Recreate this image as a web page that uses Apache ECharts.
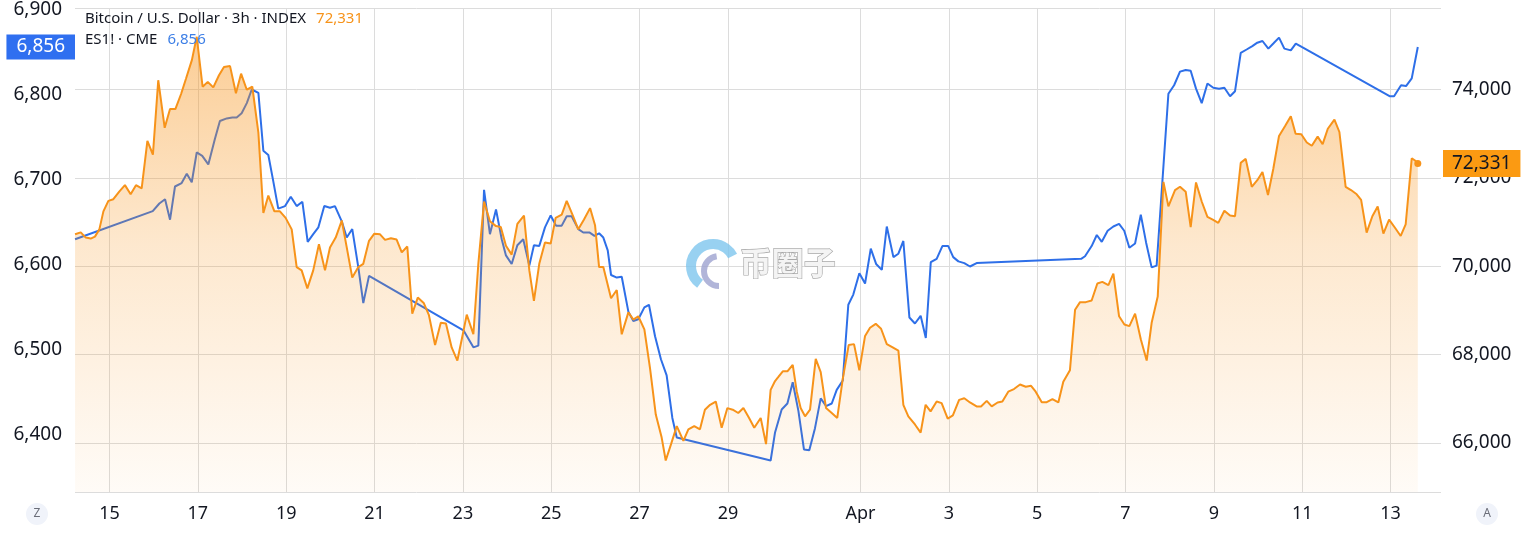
<!DOCTYPE html>
<html>
<head>
<meta charset="utf-8">
<script src="https://cdn.jsdelivr.net/npm/echarts@6/dist/echarts.min.js"></script>
<style>
html,body{margin:0;padding:0;background:#fff;}
#chart{width:1526px;height:533px;}
</style>
</head>
<body>
<div id="chart"></div>
<script>
// Hours since Mar 14 00:00 (local chart time)
const btcHours = [5.3,8.4,11.1,13.8,16.1,18.5,20.7,23.4,26.1,29.3,32.4,35.5,38.4,41.5,44.6,47.6,50.5,54.0,56.9,59.8,62.9,65.6,68.8,71.4,74.6,77.4,80.4,83.5,86.2,89.5,92.7,95.5,98.6,101.6,104.9,107.6,110.3,113.6,116.6,119.7,123.0,125.7,128.4,131.5,134.7,137.8,141.1,143.8,146.9,150.2,152.9,155.9,159.2,161.9,165.0,167.9,171.0,173.7,176.9,180.0,182.8,185.8,188.5,191.5,194.7,197.5,200.9,204.0,206.8,209.9,213.0,215.4,218.1,221.7,224.4,227.5,230.7,234.0,236.6,239.4,242.5,245.6,249.2,252.1,254.6,257.5,260.6,263.7,266.4,269.7,272.4,275.7,278.7,281.8,285.1,287.8,290.0,292.3,296.5,299.6,302.3,305.9,308.6,311.3,314.6,317.7,320.8,324.0,326.2,329.1,332.2,335.8,338.5,341.7,344.8,347.5,350.3,353.4,356.6,359.7,362.6,365.6,368.4,371.5,374.3,377.8,380.7,383.2,385.6,387.4,389.8,392.3,395.2,397.4,399.5,401.9,404.6,407.7,410.4,413.3,416.4,419.4,422.4,425.6,428.5,431.4,434.5,437.2,440.3,443.2,446.3,449.5,452.6,455.3,458.0,461.6,464.7,467.4,470.1,473.4,476.1,479.4,482.2,485.6,488.4,491.5,495.1,497.5,500.6,503.3,506.5,509.1,512.3,515.4,518.7,521.8,524.7,527.2,530.5,533.2,536.3,539.5,542.2,545.8,548.6,551.3,554.4,557.6,560.7,563.4,566.7,569.4,572.5,575.4,578.1,581.2,584.3,587.5,590.2,593.5,596.6,599.3,602.9,605.6,608.7,611.4,614.3,617.4,620.5,623.4,626.4,629.7,632.8,635.5,638.6,641.3,644.6,647.6,650.4,653.4,656.3,659.4,662.7,665.8,668.4,671.5,674.5,677.2,680.4,683.1,685.9,689.5,692.2,695.6,698.5,701.6,704.0,707.0,710.1,713.0,716.1,719.2,722.4,725.5,728.2,731.5,733.3,734.8];
const btcValues = [70724,70769,70650,70628,70672,70836,71244,71482,71519,71690,71838,71630,71838,71764,72841,72529,74215,73138,73562,73562,73903,74253,74676,75200,74067,74178,74052,74327,74513,74535,73918,74364,74000,74067,73027,71207,71601,71244,71244,71096,70836,69981,69907,69499,69907,70501,69907,70427,70650,71036,70427,69744,69981,70056,70576,70739,70724,70598,70635,70605,70316,70449,68927,69291,69170,68900,68214,68719,68704,68162,67864,68347,68904,68459,70056,71467,71021,70910,70888,70464,70264,70962,71148,69907,69216,70056,70539,70516,71096,71170,71482,71155,70836,71058,71318,70930,69981,69981,69276,69462,68459,68956,68793,68867,68570,67679,66639,66119,65599,65970,66379,66045,66305,66379,66305,66750,66862,66936,66342,66787,66750,66676,66787,66564,66342,66564,65970,67200,67400,67493,67619,67619,67768,67159,66787,66601,66750,67902,67604,66787,66676,66564,67456,68214,68236,67642,68422,68607,68696,68585,68236,68162,68088,66862,66601,66416,66230,66862,66713,66936,66899,66550,66620,66973,67010,66914,66825,66825,66951,66825,66914,66936,67159,67218,67322,67270,67292,67159,66921,66921,66988,66914,67382,67642,69016,69187,69187,69224,69610,69647,69573,69833,68867,68682,68644,68927,68347,67864,68719,69313,71913,71356,71727,71801,71690,70888,71898,71467,71118,71058,70984,71259,71148,71133,72344,72433,71801,71950,72136,71616,72210,72953,73176,73398,73000,72990,72804,72730,72938,72766,73116,73324,73042,71801,71727,71630,71504,70761,71133,71356,70739,71058,70873,70687,70947,72448,72396,72331];

const esHours = [5.3,47.5,51.1,54.2,56.9,59.6,63.2,66.0,68.7,71.4,74.4,77.7,81.3,84.0,87.7,90.7,93.1,95.8,98.6,101.3,104.9,107.6,110.3,113.0,115.7,119.4,122.5,125.7,128.8,131.7,134.7,137.5,140.7,143.8,146.5,150.2,152.9,155.9,159.2,161.9,165.0,216.3,221.7,224.4,227.5,230.7,234.0,237.1,239.4,242.5,245.6,248.8,252.1,254.6,257.5,260.6,263.7,266.6,269.7,272.4,275.1,278.7,281.4,284.7,287.5,290.0,292.3,294.7,296.5,299.6,302.3,305.9,308.6,311.3,314.6,317.1,320.4,323.6,326.7,329.8,332.2,383.2,385.6,389.2,392.3,395.2,398.3,401.3,404.2,407.3,410.4,413.3,416.4,419.1,422.4,425.4,428.1,431.4,434.5,437.6,440.5,443.6,446.3,449.9,452.6,455.3,458.6,461.6,464.7,467.5,470.2,473.4,476.5,479.7,482.4,485.2,488.4,491.5,495.1,551.9,554.0,557.6,560.4,563.1,566.3,569.4,572.5,575.3,578.1,581.2,584.3,587.2,590.2,592.9,599.3,602.4,605.6,608.7,611.4,614.3,617.4,620.5,623.7,626.8,629.7,632.8,635.5,638.6,641.8,644.9,647.6,650.4,653.6,656.3,659.4,662.3,665.8,668.5,671.7,719.7,721.9,725.7,728.4,731.5,734.8];
const esValues = [6630,6663,6672,6677,6653,6692,6696,6707,6697,6732,6728,6718,6748,6769,6772,6773,6773,6778,6790,6806,6802,6734,6729,6698,6666,6669,6680,6669,6674,6627,6636,6644,6669,6667,6669,6651,6632,6642,6597,6555,6587,6523,6503,6505,6688,6636,6665,6630,6611,6601,6623,6630,6599,6623,6622,6644,6658,6646,6646,6657,6657,6642,6638,6638,6634,6637,6632,6617,6588,6585,6586,6545,6534,6536,6550,6553,6516,6489,6470,6420,6397,6370,6403,6430,6437,6462,6428,6383,6382,6408,6443,6434,6437,6453,6464,6553,6565,6590,6578,6619,6601,6594,6645,6609,6613,6628,6538,6531,6540,6514,6603,6607,6622,6622,6609,6604,6602,6598,6602,6607,6610,6622,6635,6627,6640,6645,6648,6640,6620,6625,6659,6626,6597,6599,6801,6811,6827,6829,6828,6807,6790,6813,6808,6807,6808,6798,6804,6849,6853,6857,6861,6863,6854,6860,6867,6854,6852,6860,6856,6798,6798,6811,6810,6819,6856];

const xTickHours = [24,72,120,168,216,264,312,360,432,480,528,576,624,672,720];
const xTickLabels = ['15','17','19','21','23','25','27','29','Apr','3','5','7','9','11','13'];

const btcLast = 72331;
const esLast = 6856;

const FONT = "'Noto Sans', 'Liberation Sans', sans-serif";
const ORANGE = '#f7931a';
const BLUE = '#2e6fe8';
const fmt = v => Math.round(v).toLocaleString('en-US');

const btcData = btcHours.map((h, i) => [h, btcValues[i]]);
const esData = esHours.map((h, i) => [h, esValues[i]]);

const chart = echarts.init(document.getElementById('chart'));
chart.setOption({
  animation: false,
  backgroundColor: '#ffffff',
  title: {
    left: 85, top: 8, padding: 0,
    text: '{a|Bitcoin / U.S. Dollar · 3h · INDEX}  {b|' + fmt(btcLast) + '}\n{a|ES1! · CME}  {c|' + fmt(esLast) + '}',
    textStyle: {
      fontWeight: 'normal',
      rich: {
        a: {fontSize: 15, color: '#131722', fontFamily: FONT, fontWeight: 'normal', lineHeight: 21},
        b: {fontSize: 15, color: ORANGE, fontFamily: FONT, fontWeight: 'normal', lineHeight: 21},
        c: {fontSize: 15, color: '#3d7fe6', fontFamily: FONT, fontWeight: 'normal', lineHeight: 21}
      }
    }
  },
  grid: {left: 75, right: 85, top: 0, bottom: 41, containLabel: false},
  xAxis: {
    type: 'value', min: 5.27, max: 747.4,
    axisLine: {show: false},
    axisTick: {show: false, customValues: xTickHours},
    axisLabel: {
      customValues: xTickHours,
      formatter: v => { const i = xTickHours.indexOf(Math.round(v)); return i >= 0 ? xTickLabels[i] : ''; },
      fontSize: 18, color: '#131722', fontFamily: FONT, margin: 13
    },
    splitLine: {show: true, lineStyle: {color: '#dcdcdc', width: 1}}
  },
  yAxis: [
    {
      type: 'value', position: 'left', min: 6333, max: 6901.7, scale: true,
      axisLine: {show: false}, axisTick: {show: false}, splitLine: {show: false},
      axisLabel: {showMinLabel: false, showMaxLabel: false, formatter: fmt, fontSize: 19, color: '#131722', fontFamily: FONT, margin: 13}
    },
    {
      type: 'value', position: 'right', min: 64886, max: 75850, scale: true,
      axisLine: {show: false}, axisTick: {show: false},
      splitLine: {show: true, lineStyle: {color: '#dcdcdc', width: 1}},
      axisLabel: {showMinLabel: false, showMaxLabel: false, formatter: fmt, fontSize: 19, color: '#131722', fontFamily: FONT, margin: 11}
    }
  ],
  series: [
    {
      name: 'ES1!', type: 'line', yAxisIndex: 0, data: esData, z: 1,
      showSymbol: false, lineStyle: {color: BLUE, width: 2}, itemStyle: {color: BLUE},
      markLine: {
        silent: true, symbol: 'none', animation: false, z: 5,
        lineStyle: {color: 'rgba(0,0,0,0)', width: 0},
        label: {position: 'start', distance: 0, formatter: fmt(esLast), backgroundColor: '#2f6ff0', color: '#ffffff',
          fontSize: 19, fontFamily: FONT, padding: [2, 10, 2, 10], lineHeight: 21},
        data: [{yAxis: esLast}]
      }
    },
    {
      name: 'BTC', type: 'line', yAxisIndex: 1, data: btcData, z: 2,
      showSymbol: false, lineStyle: {color: ORANGE, width: 2}, itemStyle: {color: ORANGE},
      areaStyle: {
        color: {type: 'linear', x: 0, y: 0, x2: 0, y2: 492, global: true,
          colorStops: [{offset: 0, color: 'rgba(247,147,26,0.72)'}, {offset: 0.5, color: 'rgba(247,147,26,0.3)'}, {offset: 1, color: 'rgba(247,147,26,0.05)'}]}
      },
      markPoint: {
        silent: true, symbol: 'circle', symbolSize: 7, itemStyle: {color: ORANGE}, label: {show: false},
        data: [{coord: [btcHours[btcHours.length - 1], btcLast]}]
      },
      markLine: {
        silent: true, symbol: 'none', animation: false,
        lineStyle: {color: 'rgba(0,0,0,0)', width: 0},
        label: {position: 'end', distance: 2, formatter: fmt(btcLast), backgroundColor: '#fb9a12', color: '#131722',
          fontSize: 19, fontFamily: FONT, padding: [3, 9, 3, 9], lineHeight: 21},
        data: [{yAxis: btcLast}]
      }
    }
  ],
  graphic: [
    {type: 'arc', shape: {cx: 713, cy: 266, r: 22, startAngle: Math.PI * 0.7, endAngle: Math.PI * 1.85}, style: {stroke: '#7ec6ee', lineWidth: 10, fill: null, opacity: 0.8}, silent: true, z: 10},
    {type: 'arc', shape: {cx: 719, cy: 271, r: 15, startAngle: Math.PI * 0.5, endAngle: Math.PI * 1.45}, style: {stroke: '#9da2cf', lineWidth: 6, fill: null, opacity: 0.8}, silent: true, z: 10},
    {type: 'text', left: 739, top: 246, style: {text: '币圈子', fontSize: 32, fontFamily: "'Noto Sans CJK SC', sans-serif", fontWeight: 'bold', fill: '#f4f4f4', stroke: '#a8a8a8', lineWidth: 1.3}, silent: true, z: 10},
    {type: 'circle', shape: {cx: 37, cy: 514, r: 11}, style: {fill: '#f0f3fa'}, silent: true},
    {type: 'text', x: 37, y: 514, style: {text: 'Z', fontSize: 12, fontFamily: FONT, fill: '#6a6d78', align: 'center', verticalAlign: 'middle'}, silent: true},
    {type: 'circle', shape: {cx: 1487, cy: 514, r: 11}, style: {fill: '#f0f3fa'}, silent: true},
    {type: 'text', x: 1487, y: 514, style: {text: 'A', fontSize: 12, fontFamily: FONT, fill: '#6a6d78', align: 'center', verticalAlign: 'middle'}, silent: true}
  ]
});
</script>
</body>
</html>
